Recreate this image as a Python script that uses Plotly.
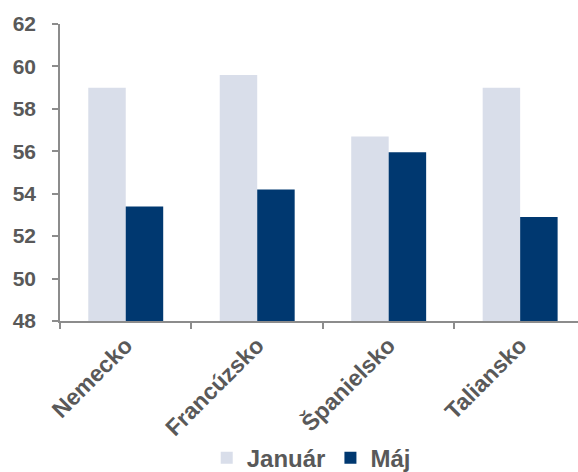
import plotly.graph_objects as go

# Kategórie a hodnoty
krajiny = ["Nemecko", "Francúzsko", "Španielsko", "Taliansko"]
januar = [59.0, 59.6, 56.7, 59.0]
maj = [53.4, 54.2, 55.95, 52.9]
y_ticks = [48, 50, 52, 54, 56, 58, 60, 62]

FAMILY = "Liberation Sans, Arial, sans-serif"
TEXT_COLOR = "#595959"
AXIS_COLOR = "#8c8c8c"


def font(size):
    return dict(family=FAMILY, size=size, color=TEXT_COLOR, weight="bold")


fig = go.Figure()
fig.add_trace(go.Bar(x=krajiny, y=januar, name="Január",
                     marker=dict(color="#D9DEEA", line=dict(width=0))))
fig.add_trace(go.Bar(x=krajiny, y=maj, name="Máj",
                     marker=dict(color="#003870", line=dict(width=0))))

fig.update_layout(
    width=578, height=472,
    margin=dict(l=60, r=0, t=24, b=151, autoexpand=False),
    paper_bgcolor="white", plot_bgcolor="white",
    barmode="group", bargap=0.43, bargroupgap=0,
    font=font(18),
    showlegend=True,
    legend=dict(orientation="h", x=0.485, xanchor="center", y=-0.462, yanchor="middle",
                font=font(24), itemwidth=30, tracegroupgap=0),
)
fig.update_xaxes(
    range=[-0.5, 3.44], showgrid=False, showline=True, linecolor=AXIS_COLOR, linewidth=1.5,
    tickangle=-45, tickfont=font(23), tickson="boundaries",
    ticks="outside", ticklen=6, tickcolor=AXIS_COLOR, tickwidth=1.5,
)
fig.update_yaxes(
    range=[48, 62], tickvals=y_ticks, showgrid=False, zeroline=False,
    showline=True, linecolor=AXIS_COLOR, linewidth=1.5,
    ticks="outside", ticklen=6, tickcolor=AXIS_COLOR, tickwidth=1.5,
    tickfont=font(21), ticklabelstandoff=12,
)

fig.write_html("out.html")
